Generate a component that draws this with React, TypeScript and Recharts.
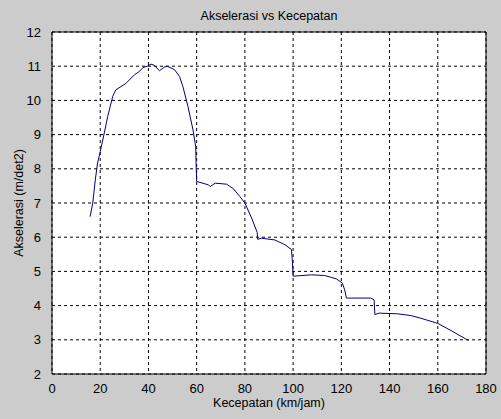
import React from "react";
import {
  LineChart,
  Line,
  XAxis,
  YAxis,
  CartesianGrid,
  ReferenceArea,
  Label,
} from "recharts";

const speeds = [
  15.8, 16.9, 18.0, 18.9, 20.0, 21.7, 23.1, 25.2, 26.5, 30.7, 34.2, 36.3, 37.7,
  39.5, 41.1, 42.3, 44.6, 46.5, 47.7, 50.8, 52.9, 54.3, 56.4, 58.5, 59.6, 59.8,
  60.0, 64.9, 65.6, 67.7, 72.4, 75.2, 77.9, 80.0, 82.8, 85.1, 85.3, 86.9, 92.4,
  96.6, 99.3, 99.7, 100.0, 107.6, 113.0, 115.6, 118.0, 120.4, 121.4, 122.1,
  132.2, 133.6, 133.9, 135.7, 143.3, 148.8, 153.0, 160.0, 165.5, 172.7,
];
const accels = [
  6.6, 7.0, 7.7, 8.17, 8.5, 9.05, 9.53, 10.12, 10.31, 10.5, 10.75, 10.85, 10.96,
  11.0, 11.06, 11.03, 10.87, 10.97, 11.0, 10.9, 10.7, 10.4, 9.82, 9.13, 8.65,
  8.06, 7.63, 7.53, 7.48, 7.58, 7.55, 7.42, 7.19, 7.0, 6.56, 6.14, 5.94, 5.97,
  5.92, 5.78, 5.64, 5.3, 4.86, 4.9, 4.88, 4.83, 4.78, 4.66, 4.46, 4.22, 4.22,
  4.17, 3.74, 3.78, 3.76, 3.71, 3.63, 3.48, 3.27, 2.98,
];
const xTicks = [0, 20, 40, 60, 80, 100, 120, 140, 160, 180];
const yTicks = [2, 3, 4, 5, 6, 7, 8, 9, 10, 11, 12];

const data = speeds.map((v, i) => ({ v, a: accels[i] }));

const FONT = "'Liberation Sans', Arial, sans-serif";

export default function App() {
  return (
    <div
      style={{
        position: "fixed",
        left: 0,
        top: 0,
        width: 501,
        height: 419,
        background: "#cccccc",
        fontFamily: FONT,
      }}
    >
      <div
        style={{
          position: "absolute",
          left: 52,
          width: 434,
          top: 9,
          textAlign: "center",
          fontSize: 12.5,
          color: "#000",
        }}
      >
        Akselerasi vs Kecepatan
      </div>
      <LineChart
        width={501}
        height={419}
        data={data}
        margin={{ top: 32, right: 15, left: 0, bottom: 0 }}
        style={{ position: "absolute", left: 0, top: 0 }}
      >
        <CartesianGrid
          stroke="#000"
          strokeDasharray="3 3"
          fill="#ffffff"
          fillOpacity={1}
        />
        <XAxis
          dataKey="v"
          type="number"
          domain={[0, 180]}
          ticks={xTicks}
          height={45}
          tickLine={false}
          axisLine={false}
          tickMargin={4}
          tick={{ fill: "#000", fontSize: 13, fontFamily: FONT }}
          interval={0}
        >
          <Label
            value="Kecepatan (km/jam)"
            position="insideBottom"
            offset={12}
            style={{ fill: "#000", fontSize: 12.5, fontFamily: FONT }}
          />
        </XAxis>
        <YAxis
          dataKey="a"
          type="number"
          domain={[2, 12]}
          ticks={yTicks}
          width={52}
          tickLine={false}
          axisLine={false}
          tickMargin={5}
          tick={{ fill: "#000", fontSize: 13, fontFamily: FONT }}
          interval={0}
        >
          <Label
            value="Akselerasi (m/det2)"
            angle={-90}
            position="insideLeft"
            offset={19}
            style={{
              fill: "#000",
              fontSize: 12.5,
              fontFamily: FONT,
              textAnchor: "middle",
            }}
          />
        </YAxis>
        <ReferenceArea
          x1={0}
          x2={180}
          y1={2}
          y2={12}
          fill="none"
          fillOpacity={0}
          stroke="#000"
          strokeOpacity={1}
          strokeWidth={1}
          ifOverflow="visible"
        />
        <Line
          type="linear"
          dataKey="a"
          stroke="#000080"
          strokeWidth={1}
          dot={false}
          isAnimationActive={false}
        />
      </LineChart>
    </div>
  );
}
